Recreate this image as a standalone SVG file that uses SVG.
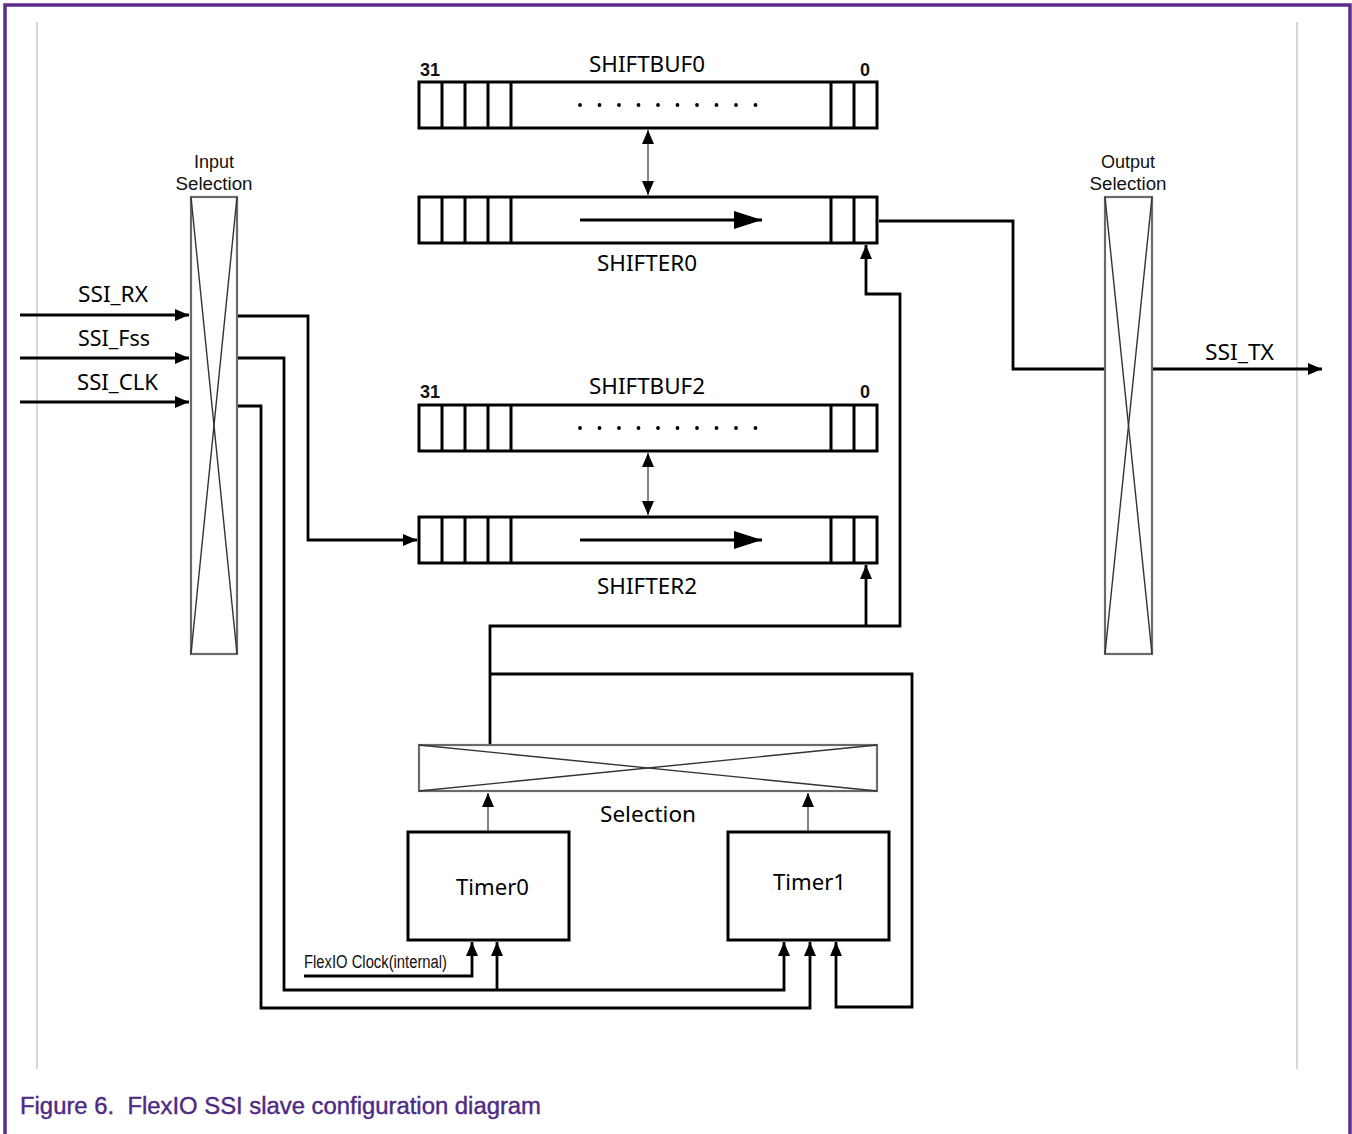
<svg xmlns="http://www.w3.org/2000/svg" width="1352" height="1134" viewBox="0 0 1352 1134">
<defs>
<style>
.reg{fill:#fff;stroke:#000;stroke-width:3}
.div{stroke:#000;stroke-width:3}
.sel{fill:#fff;stroke:#6a6a6a;stroke-width:2.2}
.selx{stroke:#333;stroke-width:1.4;fill:none}
.w{fill:none;stroke:#000;stroke-width:2.8}
.thin{fill:none;stroke:#666;stroke-width:1.6}
.lbl{font-family:"Noto Sans","Liberation Sans",sans-serif;font-size:21px;fill:#000}
.sm{font-family:"Liberation Sans",Arial,sans-serif;font-size:18px;fill:#111}
.box{fill:#fff;stroke:#000;stroke-width:3}
.dot{fill:#000}
</style>
<marker id="ah" viewBox="0 0 14 12" refX="14" refY="6" markerWidth="14" markerHeight="12" markerUnits="userSpaceOnUse" orient="auto-start-reverse">
<path d="M0,0 L14,6 L0,12 z" fill="#000"/>
</marker>
<marker id="big" viewBox="0 0 28 18" refX="28" refY="9" markerWidth="28" markerHeight="18" markerUnits="userSpaceOnUse" orient="auto">
<path d="M0,0 L28,9 L0,18 z" fill="#000"/>
</marker>
</defs>
<rect width="1352" height="1134" fill="#fff"/>
<path d="M5,1134 V5 H1350 V1134" fill="none" stroke="#5b2c8c" stroke-width="3.5"/>
<line x1="37" y1="22" x2="37" y2="1069" stroke="#c8c8c8" stroke-width="1.5"/>
<line x1="1297" y1="22" x2="1297" y2="1069" stroke="#c8c8c8" stroke-width="1.5"/>

<g id="connectors">
<line class="thin" x1="648" y1="130" x2="648" y2="195" marker-start="url(#ah)" marker-end="url(#ah)"/>
<line class="thin" x1="648" y1="453" x2="648" y2="515" marker-start="url(#ah)" marker-end="url(#ah)"/>
<line class="w" x1="20" y1="315" x2="189" y2="315" marker-end="url(#ah)"/>
<line class="w" x1="20" y1="358" x2="189" y2="358" marker-end="url(#ah)"/>
<line class="w" x1="20" y1="402" x2="189" y2="402" marker-end="url(#ah)"/>
<polyline class="w" points="238,316 308,316 308,540 417,540" marker-end="url(#ah)"/>
<polyline class="w" points="238,358 284,358 284,990 784,990 784,942" marker-end="url(#ah)"/>
<line class="w" x1="497" y1="990" x2="497" y2="942" marker-end="url(#ah)"/>
<polyline class="w" points="238,406 261,406 261,1008 810,1008 810,942" marker-end="url(#ah)"/>
<polyline class="w" points="304,976 472,976 472,942" marker-end="url(#ah)"/>
<polyline class="w" points="490,745 490,626 900,626 900,294 866,294 866,245" marker-end="url(#ah)"/>
<line class="w" x1="866" y1="626" x2="866" y2="565" marker-end="url(#ah)"/>
<polyline class="w" points="490,674 912,674 912,1007 836,1007 836,942" marker-end="url(#ah)"/>
<line class="thin" x1="488" y1="832" x2="488" y2="793" marker-end="url(#ah)"/>
<line class="thin" x1="808" y1="832" x2="808" y2="793" marker-end="url(#ah)"/>
<polyline class="w" points="879,221 1013,221 1013,369 1104,369"/>
<line class="w" x1="1153" y1="369" x2="1322" y2="369" marker-end="url(#ah)"/>
</g>

<g id="input-selection">
<rect class="sel" x="191" y="197" width="46" height="457"/>
<line class="selx" x1="191" y1="197" x2="237" y2="654"/>
<line class="selx" x1="237" y1="197" x2="191" y2="654"/>
<text class="sm" x="214" y="168" text-anchor="middle">Input</text>
<text class="sm" x="214" y="190" text-anchor="middle" textLength="77" lengthAdjust="spacingAndGlyphs">Selection</text>
</g>

<g id="output-selection">
<rect class="sel" x="1105" y="197" width="47" height="457"/>
<line class="selx" x1="1105" y1="197" x2="1152" y2="654"/>
<line class="selx" x1="1152" y1="197" x2="1105" y2="654"/>
<text class="sm" x="1128" y="168" text-anchor="middle">Output</text>
<text class="sm" x="1128" y="190" text-anchor="middle" textLength="77" lengthAdjust="spacingAndGlyphs">Selection</text>
</g>

<g id="signal-labels">
<text class="lbl" x="78" y="302" textLength="70" lengthAdjust="spacingAndGlyphs">SSI_RX</text>
<text class="lbl" x="78" y="346" textLength="72" lengthAdjust="spacingAndGlyphs">SSI_Fss</text>
<text class="lbl" x="77" y="390" textLength="81" lengthAdjust="spacingAndGlyphs">SSI_CLK</text>
<text class="lbl" x="1205" y="360" textLength="69" lengthAdjust="spacingAndGlyphs">SSI_TX</text>
</g>

<g id="shiftbuf0">
<rect class="reg" x="419" y="82" width="458" height="46"/>
<path class="div" d="M442,82V128M465,82V128M488,82V128M511,82V128M831,82V128M854,82V128"/>
<g class="dot">
<circle cx="580" cy="105" r="1.9"/><circle cx="599.5" cy="105" r="1.9"/><circle cx="619" cy="105" r="1.9"/><circle cx="638.5" cy="105" r="1.9"/><circle cx="658" cy="105" r="1.9"/><circle cx="677.5" cy="105" r="1.9"/><circle cx="697" cy="105" r="1.9"/><circle cx="716.5" cy="105" r="1.9"/><circle cx="736" cy="105" r="1.9"/><circle cx="755.5" cy="105" r="1.9"/>
</g>
<text class="sm" x="420" y="76" font-size="17" font-weight="bold">31</text>
<text class="sm" x="860" y="76" font-size="17" font-weight="bold">0</text>
<text class="lbl" x="589" y="72" textLength="116" lengthAdjust="spacingAndGlyphs">SHIFTBUF0</text>
</g>

<g id="shifter0">
<rect class="reg" x="419" y="197" width="458" height="46"/>
<path class="div" d="M442,197V243M465,197V243M488,197V243M511,197V243M831,197V243M854,197V243"/>
<line x1="580" y1="220" x2="762" y2="220" stroke="#000" stroke-width="3" marker-end="url(#big)"/>
<text class="lbl" x="597" y="271" textLength="100" lengthAdjust="spacingAndGlyphs">SHIFTER0</text>
</g>

<g id="shiftbuf2">
<rect class="reg" x="419" y="405" width="458" height="46"/>
<path class="div" d="M442,405V451M465,405V451M488,405V451M511,405V451M831,405V451M854,405V451"/>
<g class="dot">
<circle cx="580" cy="428" r="1.9"/><circle cx="599.5" cy="428" r="1.9"/><circle cx="619" cy="428" r="1.9"/><circle cx="638.5" cy="428" r="1.9"/><circle cx="658" cy="428" r="1.9"/><circle cx="677.5" cy="428" r="1.9"/><circle cx="697" cy="428" r="1.9"/><circle cx="716.5" cy="428" r="1.9"/><circle cx="736" cy="428" r="1.9"/><circle cx="755.5" cy="428" r="1.9"/>
</g>
<text class="sm" x="420" y="398" font-size="17" font-weight="bold">31</text>
<text class="sm" x="860" y="398" font-size="17" font-weight="bold">0</text>
<text class="lbl" x="589" y="394" textLength="116" lengthAdjust="spacingAndGlyphs">SHIFTBUF2</text>
</g>

<g id="shifter2">
<rect class="reg" x="419" y="517" width="458" height="46"/>
<path class="div" d="M442,517V563M465,517V563M488,517V563M511,517V563M831,517V563M854,517V563"/>
<line x1="580" y1="540" x2="762" y2="540" stroke="#000" stroke-width="3" marker-end="url(#big)"/>
<text class="lbl" x="597" y="594" textLength="100" lengthAdjust="spacingAndGlyphs">SHIFTER2</text>
</g>

<g id="timer-selection">
<rect class="sel" x="419" y="745" width="458" height="46"/>
<line class="selx" x1="419" y1="745" x2="877" y2="791"/>
<line class="selx" x1="877" y1="745" x2="419" y2="791"/>
<text class="lbl" x="600" y="822" textLength="96" lengthAdjust="spacingAndGlyphs">Selection</text>
</g>

<g id="timer0">
<rect class="box" x="408" y="832" width="161" height="108"/>
<text class="lbl" x="456" y="895" textLength="73" lengthAdjust="spacingAndGlyphs">Timer0</text>
</g>

<g id="timer1">
<rect class="box" x="728" y="832" width="161" height="108"/>
<text class="lbl" x="773" y="890" textLength="73" lengthAdjust="spacingAndGlyphs">Timer1</text>
</g>

<g id="flexio-clock-label">
<text class="sm" x="304" y="968" font-size="14" textLength="143" lengthAdjust="spacingAndGlyphs">FlexIO Clock(internal)</text>
</g>

<text x="20" y="1114" xml:space="preserve" font-family="Liberation Sans, Arial, sans-serif" font-size="23" fill="#4e2a84" stroke="#4e2a84" stroke-width="0.4" textLength="521" lengthAdjust="spacingAndGlyphs">Figure 6.  FlexIO SSI slave configuration diagram</text>
</svg>
